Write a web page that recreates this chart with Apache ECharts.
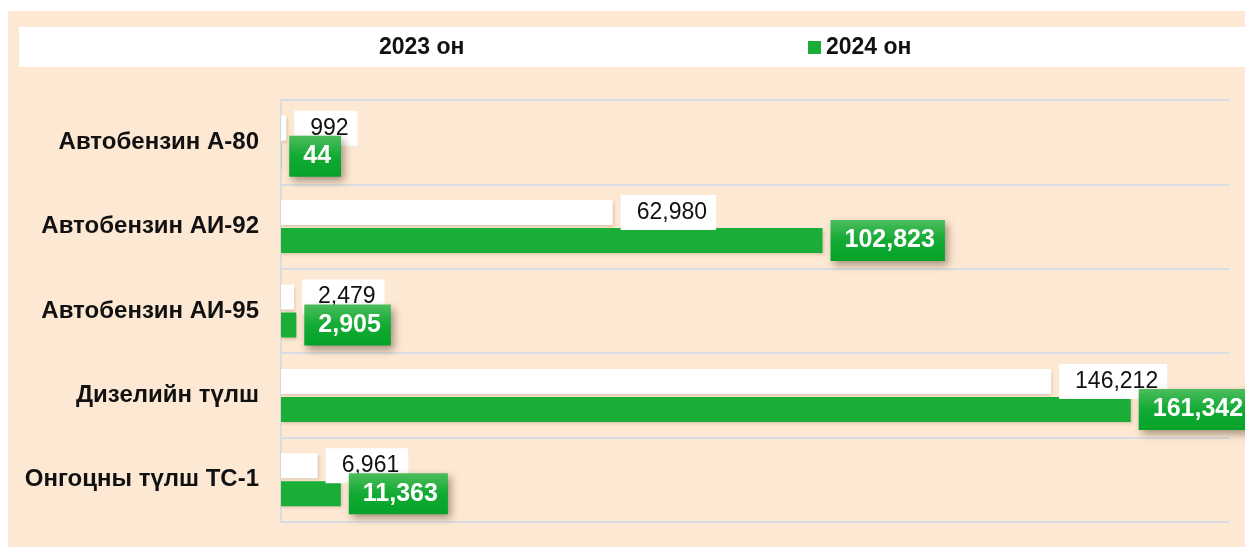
<!DOCTYPE html>
<html>
<head>
<meta charset="utf-8">
<script src="https://cdn.jsdelivr.net/npm/echarts@6/dist/echarts.min.js"></script>
<style>
  html, body { margin: 0; padding: 0; background: #fff; }
  #chart { width: 1245px; height: 547px; }
</style>
</head>
<body>
<div id="chart"></div>
<script>
// түлшний төрөл
const categories = ['Автобензин А-80', 'Автобензин АИ-92', 'Автобензин АИ-95', 'Дизелийн түлш', 'Онгоцны түлш ТС-1']
const seriesNames = ['2023 он', '2024 он']
const values2023 = [992, 62980, 2479, 146212, 6961]
const values2024 = [44, 102823, 2905, 161342, 11363]

const FONT = "'Liberation Sans', Arial, sans-serif"
const GREEN = '#1aad38'

function fmt(p) {
  return p.value.toLocaleString('en-US')
}

const chart = echarts.init(document.getElementById('chart'), null, { renderer: 'canvas' })

chart.setOption({
  animation: false,
  textStyle: { fontFamily: FONT },
  graphic: [
    { type: 'rect', z: -10, shape: { x: 8, y: 11, width: 1240, height: 540 }, style: { fill: '#fce8d3' } },
    { type: 'rect', z: -9, shape: { x: 19, y: 27, width: 1230, height: 40 }, style: { fill: '#ffffff' } }
  ],
  legend: [
    {
      data: [seriesNames[0]], left: 361, top: 36, padding: 0,
      itemWidth: 13, itemHeight: 13, icon: 'rect',
      textStyle: { fontSize: 23, fontWeight: 'bold', color: '#111', fontFamily: FONT }
    },
    {
      data: [seriesNames[1]], left: 808, top: 36, padding: 0,
      itemWidth: 13, itemHeight: 13, icon: 'rect',
      textStyle: { fontSize: 23, fontWeight: 'bold', color: '#111', fontFamily: FONT }
    }
  ],
  grid: { left: 281, right: 16, top: 100, bottom: 25, containLabel: false },
  xAxis: {
    type: 'value', min: 0, max: 180000, show: false,
    splitLine: { show: false }
  },
  yAxis: {
    type: 'category', data: categories, inverse: true,
    axisLine: { show: true, lineStyle: { color: '#d9dce2', width: 2 } },
    axisTick: { show: false },
    splitLine: { show: true, lineStyle: { color: '#d9dce2', width: 2 } },
    axisLabel: { margin: 22, fontSize: 24, fontWeight: 'bold', color: '#111', fontFamily: FONT }
  },
  series: [
    {
      name: seriesNames[0], type: 'bar', data: values2023,
      barWidth: 25, barGap: '12%',
      itemStyle: {
        color: '#ffffff',
        shadowColor: 'rgba(120, 80, 40, 0.25)', shadowBlur: 3, shadowOffsetX: 1, shadowOffsetY: 2
      },
      label: {
        show: true, position: 'right', distance: 8, formatter: fmt,
        fontSize: 23, color: '#111', fontFamily: FONT,
        backgroundColor: '#ffffff', padding: [6, 9, 6, 16]
      }
    },
    {
      name: seriesNames[1], type: 'bar', data: values2024,
      barWidth: 25,
      itemStyle: {
        color: GREEN,
        shadowColor: 'rgba(120, 80, 40, 0.25)', shadowBlur: 3, shadowOffsetX: 1, shadowOffsetY: 2
      },
      label: {
        show: true, position: 'right', distance: 8, formatter: fmt,
        fontSize: 25, fontWeight: 'bold', color: '#fff', fontFamily: FONT,
        backgroundColor: new echarts.graphic.LinearGradient(0, 0, 0, 1, [
          { offset: 0, color: '#4dbd5c' },
          { offset: 0.5, color: '#12aa34' },
          { offset: 1, color: '#04a328' }
        ]),
        padding: [8, 10, 8, 14],
        shadowColor: 'rgba(60, 40, 20, 0.45)', shadowBlur: 8, shadowOffsetX: 3, shadowOffsetY: 4
      }
    }
  ]
})
</script>
</body>
</html>
